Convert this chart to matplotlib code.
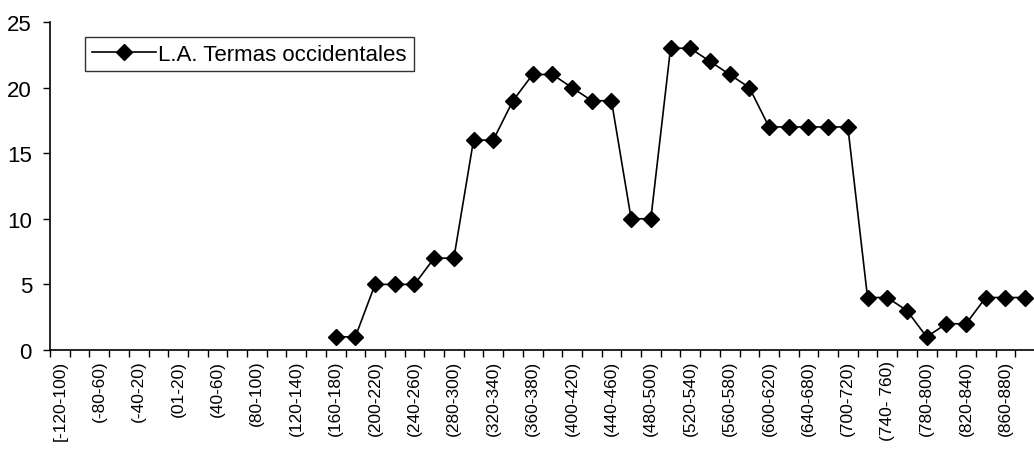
import numpy as np
import matplotlib
matplotlib.use("Agg")
import matplotlib.pyplot as plt

plt.rcParams["font.family"] = ["Liberation Sans", "DejaVu Sans"]

# Category labels (intervals); 640-680 appears as one interval in the source
categories = [
    "[-120-100)", "(-100-80)", "(-80-60)", "(-60-40)", "(-40-20)", "(-20-0)",
    "(01-20)", "(20-40)", "(40-60)", "(60-80)", "(80-100)", "(100-120)",
    "(120-140)", "(140-160)", "(160-180)", "(180-200)", "(200-220)", "(220-240)",
    "(240-260)", "(260-280)", "(280-300)", "(300-320)", "(320-340)", "(340-360)",
    "(360-380)", "(380-400)", "(400-420)", "(420-440)", "(440-460)", "(460-480)",
    "(480-500)", "(500-520)", "(520-540)", "(540-560)", "(560-580)", "(580-600)",
    "(600-620)", "(620-640)", "(640-680)", "(680-700)", "(700-720)", "(720-740)",
    "(740- 760)", "(760-780)", "(780-800)", "(800-820)", "(820-840)", "(840-860)",
    "(860-880)", "(880-900)",
]

nan = np.nan
termas = [
    nan, nan, nan, nan, nan, nan, nan, nan, nan, nan, nan, nan, nan, nan,
    1, 1, 5, 5, 5, 7, 7, 16, 16, 19, 21, 21, 20, 19, 19, 10,
    10, 23, 23, 22, 21, 20, 17, 17, 17, 17, 17, 4, 4, 3, 1, 2,
    2, 4, 4, 4,
]
series_name = "L.A. Termas occidentales"
yticks = [0, 5, 10, 15, 20, 25]

fig = plt.figure(figsize=(10.34, 4.52), dpi=100)
ax = fig.add_axes([50 / 1034, 101 / 452, 985 / 1034, 328 / 452])

x = np.arange(len(categories))
ax.plot(x, termas, color="black", lw=1.2, marker="D", ms=8,
        mfc="black", mec="black", label=series_name)

ax.set_xlim(-0.5, len(categories) - 0.5)
ax.set_ylim(0, 25)
ax.set_yticks(yticks)
ax.tick_params(axis="y", direction="out", length=5, width=1, labelsize=16, pad=8)

# labels at every other category, tick marks between categories
ax.set_xticks(x[::2])
ax.set_xticklabels(categories[::2], rotation=90, fontsize=12.5, va="top")
ax.set_xticks(np.arange(-0.5, len(categories)), minor=True)
ax.tick_params(axis="x", which="major", length=0, pad=7)
ax.tick_params(axis="x", which="minor", direction="out", length=5, width=1)

for side in ["top", "right"]:
    ax.spines[side].set_visible(False)
for side in ["left", "bottom"]:
    ax.spines[side].set_linewidth(1.2)

leg = ax.legend(loc="upper left", bbox_to_anchor=(35 / 985, 1 - 15 / 328),
                fontsize=16, frameon=True, fancybox=False, edgecolor="black",
                handlelength=2.9, borderpad=0.3, handletextpad=0.1,
                borderaxespad=0)
leg.get_frame().set_linewidth(1.0)

fig.savefig("out.png", dpi=100)
